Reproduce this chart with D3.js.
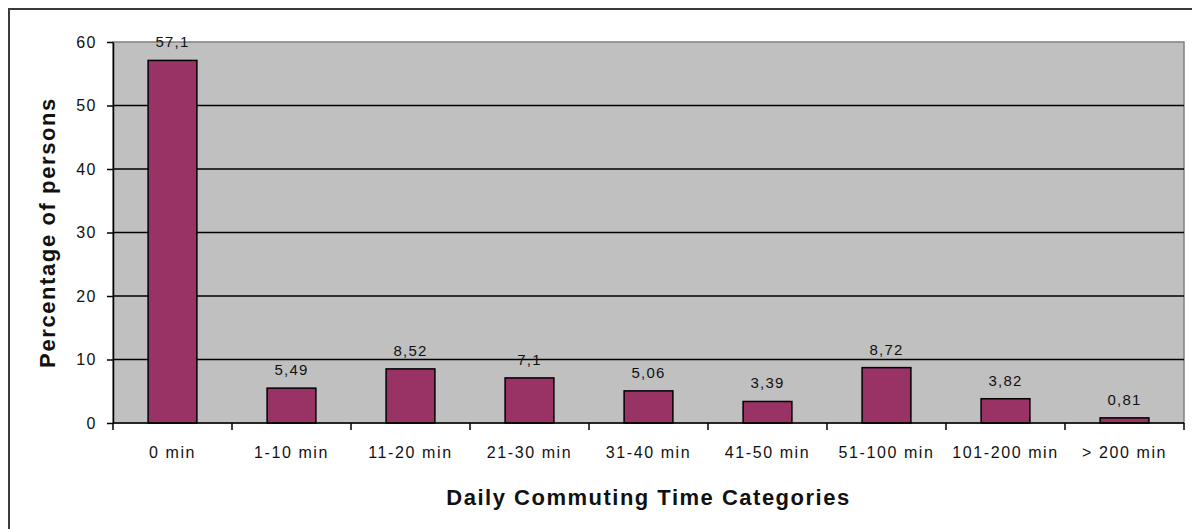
<!DOCTYPE html>
<html>
<head>
<meta charset="utf-8">
<script src="https://cdn.jsdelivr.net/npm/d3@7"></script>
<style>
  body { margin: 0; background: #fff; }
  svg { display: block; font-family: Arial, "Liberation Sans", sans-serif; }
</style>
</head>
<body>
<div id="chart"></div>
<script>
const categories = ["0 min", "1-10 min", "11-20 min", "21-30 min", "31-40 min",
  "41-50 min", "51-100 min", "101-200 min", "> 200 min"];
const percentages = [57.1, 5.49, 8.52, 7.1, 5.06, 3.39, 8.72, 3.82, 0.81];
const valueLabels = ["57,1", "5,49", "8,52", "7,1", "5,06", "3,39", "8,72", "3,82", "0,81"];
const yTicks = [0, 10, 20, 30, 40, 50, 60];

const width = 1192;
const height = 529;
const plot = { left: 113, top: 42, right: 1184, bottom: 423 };

const svg = d3.select("#chart")
  .append("svg")
  .attr("width", width)
  .attr("height", height);

// outer frame (runs off the right/bottom edge in the source)
svg.append("rect")
  .attr("x", 9).attr("y", 9)
  .attr("width", 1300).attr("height", 700)
  .attr("fill", "none")
  .attr("stroke", "#3a3a3a")
  .attr("stroke-width", 2);

const y = d3.scaleLinear().domain([0, 60]).range([plot.bottom, plot.top]);

const xCat = d3.scaleBand().domain(categories).range([plot.left, plot.right]).padding(0);
const xBar = d3.scaleBand().domain(categories).range([plot.left, plot.right])
  .paddingInner(0.59).paddingOuter(0.295);

// plot background
svg.append("rect")
  .attr("x", plot.left).attr("y", plot.top)
  .attr("width", plot.right - plot.left)
  .attr("height", plot.bottom - plot.top)
  .attr("fill", "#c0c0c0")
  .attr("stroke", "#808080")
  .attr("stroke-width", 1.5);

// gridlines
svg.append("g")
  .selectAll("line")
  .data(yTicks.filter(d => d > 0 && d < 60))
  .join("line")
  .attr("x1", plot.left).attr("x2", plot.right)
  .attr("y1", d => y(d)).attr("y2", d => y(d))
  .attr("stroke", "#000")
  .attr("stroke-width", 1.5);

// bars
svg.append("g")
  .selectAll("rect")
  .data(percentages)
  .join("rect")
  .attr("x", (d, i) => xBar(categories[i]))
  .attr("y", d => y(d))
  .attr("width", xBar.bandwidth())
  .attr("height", d => y(0) - y(d))
  .attr("fill", "#993366")
  .attr("stroke", "#000")
  .attr("stroke-width", 1.5);

// value labels
svg.append("g")
  .selectAll("text")
  .data(percentages)
  .join("text")
  .attr("x", (d, i) => xBar(categories[i]) + xBar.bandwidth() / 2)
  .attr("y", d => y(d) - 13)
  .attr("text-anchor", "middle")
  .attr("font-size", 15)
  .attr("letter-spacing", 1.2)
  .attr("fill", "#111")
  .text((d, i) => valueLabels[i]);

// y axis
const yAxis = svg.append("g")
  .attr("transform", `translate(${plot.left},0)`)
  .call(d3.axisLeft(y).tickValues(yTicks).tickSize(6).tickSizeOuter(0).tickPadding(10));
yAxis.select(".domain").attr("stroke", "#000").attr("stroke-width", 1.5);
yAxis.selectAll(".tick line").attr("stroke", "#000").attr("stroke-width", 1.5);
yAxis.selectAll(".tick text")
  .attr("font-size", 16)
  .attr("letter-spacing", 1.5)
  .attr("fill", "#111")
  .attr("font-family", "Arial, 'Liberation Sans', sans-serif");

// x axis line with boundary ticks
const xAxis = svg.append("g");
xAxis.append("line")
  .attr("x1", plot.left).attr("x2", plot.right)
  .attr("y1", plot.bottom).attr("y2", plot.bottom)
  .attr("stroke", "#000").attr("stroke-width", 1.5);
xAxis.selectAll("line.tick")
  .data(categories.map(c => xCat(c)).concat([plot.right]))
  .join("line")
  .attr("class", "tick")
  .attr("x1", d => d).attr("x2", d => d)
  .attr("y1", plot.bottom).attr("y2", plot.bottom + 7)
  .attr("stroke", "#000").attr("stroke-width", 1.5);
xAxis.selectAll("text")
  .data(categories)
  .join("text")
  .attr("x", d => xCat(d) + xCat.bandwidth() / 2)
  .attr("y", 458)
  .attr("text-anchor", "middle")
  .attr("font-size", 16)
  .attr("letter-spacing", 1.6)
  .attr("fill", "#111")
  .text(d => d);

// axis titles
svg.append("text")
  .attr("x", (plot.left + plot.right) / 2)
  .attr("y", 505)
  .attr("text-anchor", "middle")
  .attr("font-size", 22)
  .attr("font-weight", "bold")
  .attr("letter-spacing", 1.5)
  .attr("fill", "#111")
  .text("Daily Commuting Time Categories");

svg.append("text")
  .attr("transform", `translate(55,${(plot.top + plot.bottom) / 2}) rotate(-90)`)
  .attr("text-anchor", "middle")
  .attr("font-size", 22)
  .attr("font-weight", "bold")
  .attr("letter-spacing", 1.6)
  .attr("fill", "#111")
  .text("Percentage of persons");
</script>
</body>
</html>
